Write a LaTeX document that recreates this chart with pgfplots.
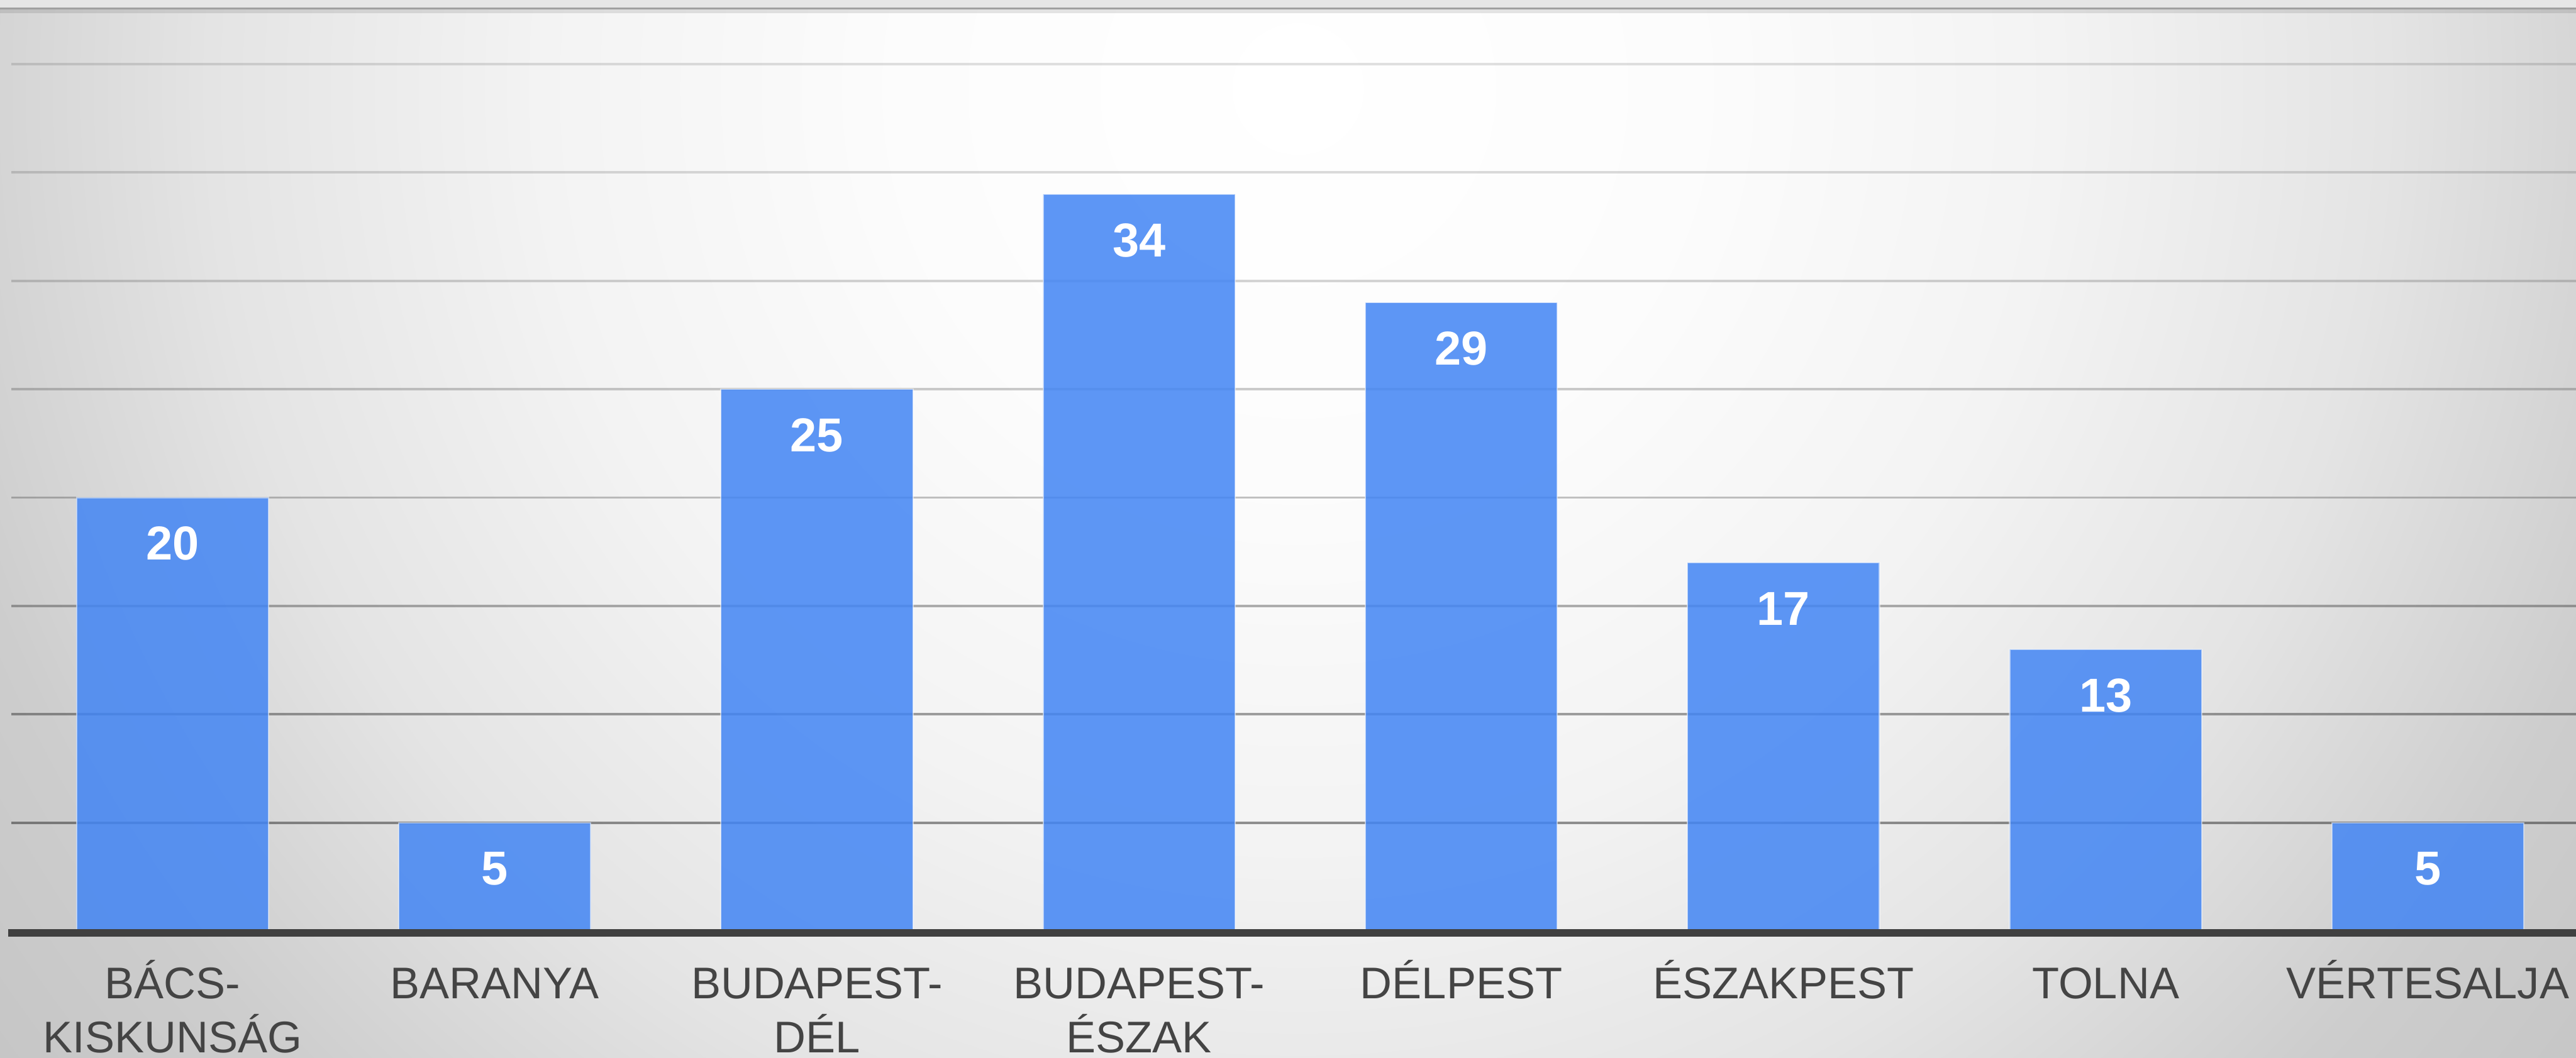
\documentclass[border=0pt]{standalone}
\usepackage{fontspec}
\setmainfont{Liberation Sans}
\usepackage{pgfplots}
\pgfplotsset{compat=1.18}
\usepackage{pgfplotstable}

\definecolor{barblue}{HTML}{4285F4}
\definecolor{lblgray}{HTML}{444444}
\definecolor{axisgray}{HTML}{404040}
\definecolor{stripgray}{HTML}{E6E6E6}
\definecolor{framegray}{HTML}{A0A0A0}
\definecolor{g0}{RGB}{255,255,255}
\definecolor{g1}{RGB}{252,252,252}
\definecolor{g2}{RGB}{243,243,243}
\definecolor{g3}{RGB}{228,228,228}
\definecolor{g4}{RGB}{205,205,205}
\definecolor{g5}{RGB}{196,196,196}
\pgfdeclareradialshading{bgshade}{\pgfpoint{0bp}{0bp}}{color(0bp)=(g0); color(120bp)=(g1); color(230bp)=(g2); color(330bp)=(g3); color(425bp)=(g4); color(510bp)=(g5); color(1000bp)=(g5)}

\newcommand{\lab}[2]{\begin{tabular}[t]{@{}c@{}}#1\\#2\end{tabular}}
\newcommand{\labone}[1]{\begin{tabular}[t]{@{}c@{}}#1\end{tabular}}

\pgfplotstableread{
x y
0 20
1 5
2 25
3 34
4 29
5 17
6 13
7 5
}\datatable

\begin{document}
\begin{tikzpicture}
\useasboundingbox (0,0) rectangle (784pt,322pt);
\begin{scope}
\clip (0,0) rectangle (784pt,322pt);
\node[inner sep=0pt, outer sep=0pt] at (395pt,295pt) {\pgfuseshading{bgshade}};
\end{scope}
\fill[stripgray] (0,319.6pt) rectangle (784pt,322pt);
\draw[framegray, line width=0.6pt] (0,319.4pt) -- (784pt,319.4pt);
\draw[black, opacity=0.10, line width=1.2pt] (0,318.5pt) -- (784pt,318.5pt);
\begin{axis}[
  at={(3pt,38.55pt)}, anchor=south west,
  scale only axis, width=781pt, height=280.8pt,
  xmin=-0.505, xmax=7.46, ymin=0, ymax=42.56,
  clip=false,
  axis line style={draw=none},
  ytick=\empty,
  xtick={0,...,7},
  major tick length=0pt,
  xticklabels={{\lab{BÁCS-}{KISKUNSÁG}}, {\labone{BARANYA}}, {\lab{BUDAPEST-}{DÉL}}, {\lab{BUDAPEST-}{ÉSZAK}}, {\labone{DÉLPEST}}, {\labone{ÉSZAKPEST}}, {\labone{TOLNA}}, {\labone{VÉRTESALJA}}},
  xticklabel style={anchor=base, yshift=-20.55pt, text=lblgray, font=\fontsize{13.5}{16.3}\selectfont},
]
\draw[black, draw opacity=0.41, line width=0.75pt] (axis cs:-0.5,5) -- (axis cs:7.46,5);
\draw[black, draw opacity=0.36, line width=0.75pt] (axis cs:-0.5,10) -- (axis cs:7.46,10);
\draw[black, draw opacity=0.30, line width=0.75pt] (axis cs:-0.5,15) -- (axis cs:7.46,15);
\draw[black, draw opacity=0.23, line width=0.75pt] (axis cs:-0.5,20) -- (axis cs:7.46,20);
\draw[black, draw opacity=0.20, line width=0.75pt] (axis cs:-0.5,25) -- (axis cs:7.46,25);
\draw[black, draw opacity=0.165, line width=0.75pt] (axis cs:-0.5,30) -- (axis cs:7.46,30);
\draw[black, draw opacity=0.14, line width=0.75pt] (axis cs:-0.5,35) -- (axis cs:7.46,35);
\draw[black, draw opacity=0.12, line width=0.75pt] (axis cs:-0.5,40) -- (axis cs:7.46,40);
\addplot[ybar, bar width=0.596, fill=barblue, fill opacity=0.85, draw=white, draw opacity=0.5, line width=0.4pt,
  nodes near coords={\pgfmathprintnumber[assume math mode=true]{\pgfplotspointmeta}},
  every node near coord/.append style={anchor=base, yshift=-19pt, text=white, text opacity=1, font=\bfseries\fontsize{14.5}{17}\selectfont}
] table[x=x, y=y] {\datatable};
\draw[axisgray, line width=2.2pt] ([yshift=-0.6pt]axis cs:-0.51,0) -- ([yshift=-0.6pt]axis cs:7.46,0);
\end{axis}
\end{tikzpicture}
\end{document}
